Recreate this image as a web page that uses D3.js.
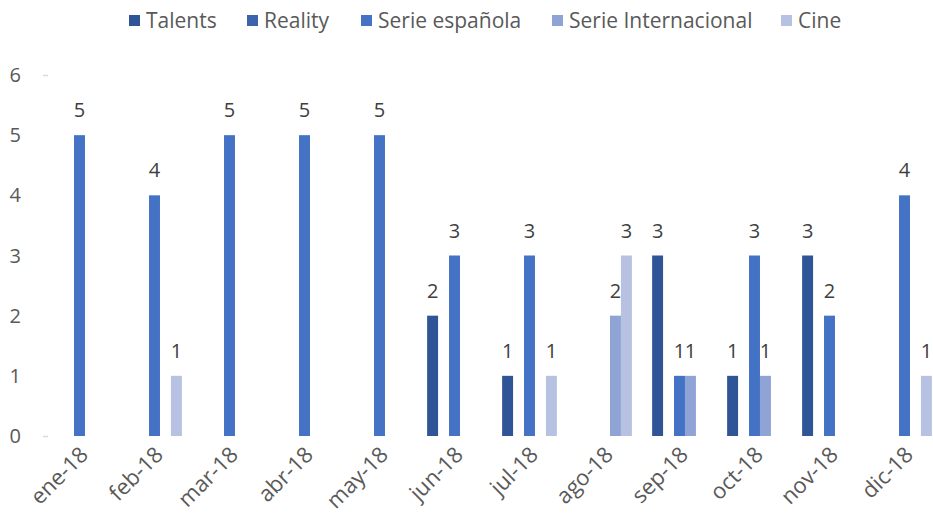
<!DOCTYPE html>
<html>
<head>
<meta charset="utf-8">
<script src="https://cdn.jsdelivr.net/npm/d3@7"></script>
<style>
  body { margin: 0; background: #fff; }
  svg { display: block; font-family: "Open Sans", sans-serif; }
  .lbl { fill: #404040; font-size: 20px; }
  .axis text { fill: #595959; font-size: 20px; }
  .xlab text { fill: #595959; font-size: 22px; }
  .legend text { fill: #595959; font-size: 21px; }
</style>
</head>
<body>
<script>
// chart data
var months = ['ene-18','feb-18','mar-18','abr-18','may-18','jun-18','jul-18','ago-18','sep-18','oct-18','nov-18','dic-18'];
var series = ['Talents','Reality','Serie española','Serie Internacional','Cine'];
var colors = ['#2F5597','#3B64AD','#4472C4','#8FA3D5','#B7C2E3'];

var talents     = [null, null, null, null, null, 2, 1, null, 3, 1, 3, null];
var reality     = [null, null, null, null, null, null, null, null, null, null, null, null];
var serieEsp    = [5, 4, 5, 5, 5, 3, 3, null, 1, 3, 2, 4];
var serieInt    = [null, null, null, null, null, null, null, 2, 1, 1, null, null];
var cine        = [null, 1, null, null, null, null, 1, 3, null, null, null, 1];
var yTicks = [0, 1, 2, 3, 4, 5, 6];

var values = [talents, reality, serieEsp, serieInt, cine];

var width = 933, height = 517;

var svg = d3.select('body').append('svg')
  .attr('width', width)
  .attr('height', height);

// scales
var x0 = d3.scaleBand()
  .domain(months)
  .range([42, 942])
  .paddingInner(0.27)
  .paddingOuter(0.135);

var x1 = d3.scaleBand()
  .domain(series)
  .range([0, x0.bandwidth()]);

var y = d3.scaleLinear()
  .domain([0, 6])
  .range([436, 75]);

// flatten to one row per bar
var bars = [];
series.forEach(function(s, si) {
  months.forEach(function(m, mi) {
    var v = values[si][mi];
    if (v != null) bars.push({ month: m, series: s, idx: si, value: v });
  });
});

// y axis: labels, small faint ticks only at ends
var yAxis = svg.append('g').attr('class', 'axis');
yAxis.selectAll('text')
  .data(yTicks)
  .enter().append('text')
  .attr('x', 21)
  .attr('y', function(d) { return y(d); })
  .attr('dy', '0.35em')
  .attr('text-anchor', 'end')
  .text(function(d) { return d; });

yAxis.selectAll('line')
  .data([0, 6])
  .enter().append('line')
  .attr('x1', 43).attr('x2', 48)
  .attr('y1', function(d) { return y(d) + 0.5; })
  .attr('y2', function(d) { return y(d) + 0.5; })
  .attr('stroke', '#d9d9d9')
  .attr('stroke-width', 1.5);

// bars
svg.append('g').selectAll('rect')
  .data(bars)
  .enter().append('rect')
  .attr('x', function(d) { return x0(d.month) + x1(d.series); })
  .attr('y', function(d) { return y(d.value); })
  .attr('width', x1.bandwidth())
  .attr('height', function(d) { return y(0) - y(d.value); })
  .attr('fill', function(d) { return colors[d.idx]; });

// value labels
svg.append('g').selectAll('text')
  .data(bars)
  .enter().append('text')
  .attr('class', 'lbl')
  .attr('x', function(d) { return x0(d.month) + x1(d.series) + x1.bandwidth() / 2; })
  .attr('y', function(d) { return y(d.value) - 18; })
  .attr('text-anchor', 'middle')
  .text(function(d) { return d.value; });

// x labels rotated
var xAxis = svg.append('g').attr('class', 'xlab');
xAxis.selectAll('text')
  .data(months)
  .enter().append('text')
  .attr('text-anchor', 'end')
  .attr('transform', function(d) {
    var cx = x0(d) + x0.bandwidth() / 2 + 10;
    return 'translate(' + cx + ',456) rotate(-45)';
  })
  .text(function(d) { return d; });

// legend
var legendX = [129, 247, 361, 552, 781];
var legend = svg.append('g').attr('class', 'legend');
var item = legend.selectAll('g')
  .data(series)
  .enter().append('g')
  .attr('transform', function(d, i) { return 'translate(' + legendX[i] + ',0)'; });
item.append('rect')
  .attr('x', 0).attr('y', 15)
  .attr('width', 11).attr('height', 11)
  .attr('fill', function(d, i) { return colors[i]; });
item.append('text')
  .attr('x', 17)
  .attr('y', 28)
  .text(function(d) { return d; });
</script>
</body>
</html>
